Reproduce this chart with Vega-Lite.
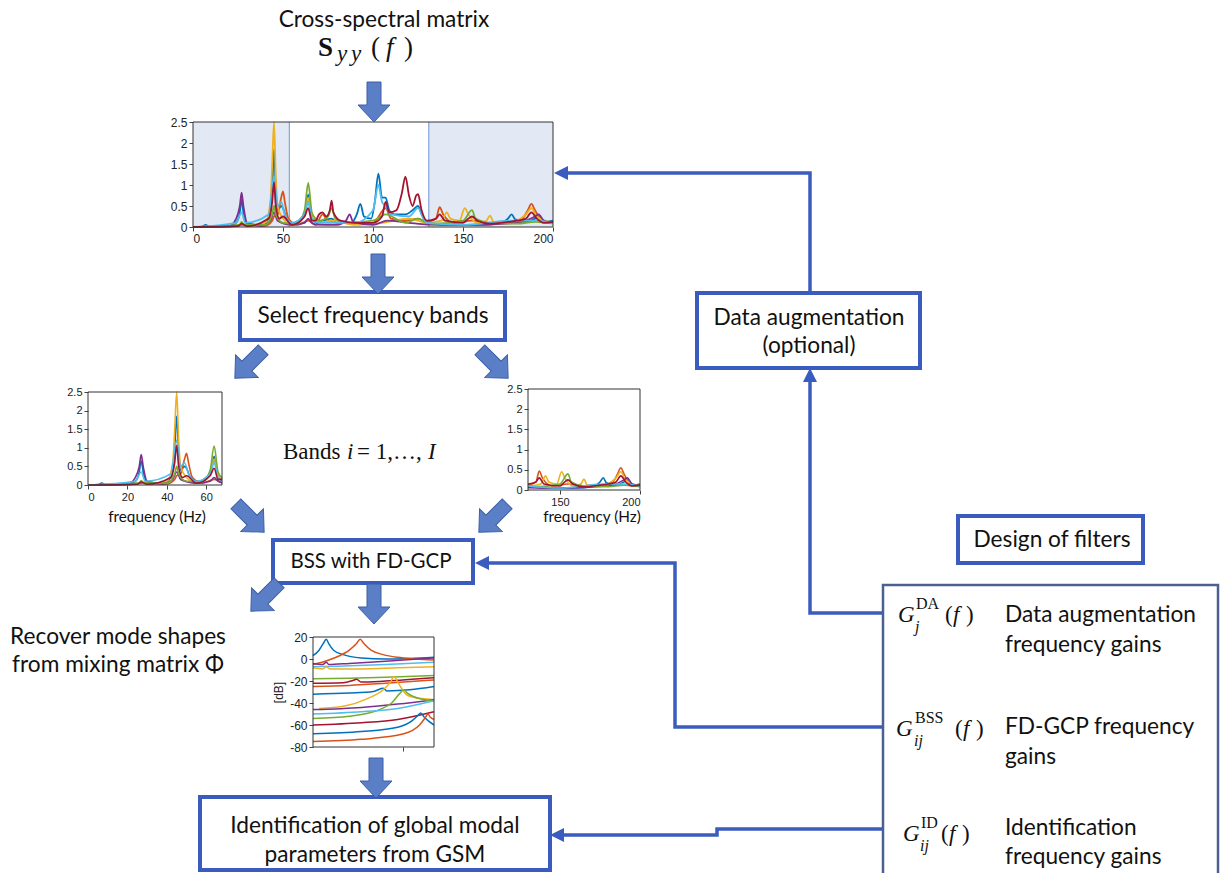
{
"$schema":"https://vega.github.io/schema/vega-lite/v6.json",
"width":1221,"height":873,"autosize":{"type":"none"},"padding":0,"background":"white",
"config":{"view":{"stroke":null},"axis":{"grid":false,"domain":false,"title":null,"labelFont":"Liberation Sans","labelColor":"#222","tickColor":"#444","tickSize":4,"labelExpr":"''+datum.value"}},
"datasets":{
"spec":[
{"s":"A","f":0,"v":0},{"s":"A","f":5,"v":0.01},{"s":"A","f":7,"v":0.05},{"s":"A","f":9,"v":0.01},{"s":"A","f":20,"v":0.02},{"s":"A","f":24,"v":0.1},{"s":"A","f":26,"v":0.35},{"s":"A","f":27,"v":0.65},{"s":"A","f":28,"v":0.35},{"s":"A","f":30,"v":0.08},{"s":"A","f":38,"v":0.05},{"s":"A","f":42,"v":0.2},{"s":"A","f":44,"v":0.9},{"s":"A","f":45,"v":1.85},{"s":"A","f":46,"v":0.9},{"s":"A","f":47,"v":0.4},{"s":"A","f":49,"v":0.5},{"s":"A","f":50,"v":0.45},{"s":"A","f":52,"v":0.2},{"s":"A","f":56,"v":0.1},{"s":"A","f":60,"v":0.2},{"s":"A","f":63,"v":0.5},{"s":"A","f":64,"v":0.77},{"s":"A","f":65,"v":0.45},{"s":"A","f":67,"v":0.15},{"s":"A","f":68,"v":0.12},{"s":"A","f":72,"v":0.15},{"s":"A","f":77,"v":0.2},{"s":"A","f":80,"v":0.1},{"s":"A","f":88,"v":0.1},{"s":"A","f":91,"v":0.3},{"s":"A","f":93,"v":0.55},{"s":"A","f":95,"v":0.25},{"s":"A","f":99,"v":0.2},{"s":"A","f":101,"v":0.6},{"s":"A","f":103,"v":1.27},{"s":"A","f":105,"v":0.7},{"s":"A","f":107,"v":0.7},{"s":"A","f":109,"v":0.4},{"s":"A","f":112,"v":0.3},{"s":"A","f":118,"v":0.3},{"s":"A","f":122,"v":0.4},{"s":"A","f":125,"v":0.5},{"s":"A","f":127,"v":0.3},{"s":"A","f":130,"v":0.12},{"s":"A","f":140,"v":0.05},{"s":"A","f":160,"v":0.05},{"s":"A","f":170,"v":0.08},{"s":"A","f":175,"v":0.2},{"s":"A","f":177,"v":0.3},{"s":"A","f":179,"v":0.18},{"s":"A","f":185,"v":0.12},{"s":"A","f":190,"v":0.2},{"s":"A","f":192,"v":0.25},{"s":"A","f":195,"v":0.12},{"s":"A","f":200,"v":0.15},
{"s":"B","f":0,"v":0},{"s":"B","f":20,"v":0.01},{"s":"B","f":27,"v":0.05},{"s":"B","f":40,"v":0.03},{"s":"B","f":44,"v":0.15},{"s":"B","f":45,"v":0.25},{"s":"B","f":47,"v":0.3},{"s":"B","f":49,"v":0.7},{"s":"B","f":50,"v":0.85},{"s":"B","f":51,"v":0.6},{"s":"B","f":53,"v":0.2},{"s":"B","f":58,"v":0.05},{"s":"B","f":64,"v":0.15},{"s":"B","f":68,"v":0.05},{"s":"B","f":72,"v":0.3},{"s":"B","f":74,"v":0.2},{"s":"B","f":80,"v":0.1},{"s":"B","f":100,"v":0.1},{"s":"B","f":107,"v":0.45},{"s":"B","f":110,"v":0.2},{"s":"B","f":118,"v":0.15},{"s":"B","f":125,"v":0.2},{"s":"B","f":130,"v":0.12},{"s":"B","f":135,"v":0.2},{"s":"B","f":137,"v":0.47},{"s":"B","f":139,"v":0.3},{"s":"B","f":145,"v":0.1},{"s":"B","f":155,"v":0.15},{"s":"B","f":165,"v":0.08},{"s":"B","f":175,"v":0.1},{"s":"B","f":183,"v":0.2},{"s":"B","f":186,"v":0.4},{"s":"B","f":188,"v":0.55},{"s":"B","f":190,"v":0.4},{"s":"B","f":194,"v":0.15},{"s":"B","f":200,"v":0.1},
{"s":"C","f":0,"v":0},{"s":"C","f":25,"v":0.02},{"s":"C","f":27,"v":0.1},{"s":"C","f":30,"v":0.03},{"s":"C","f":40,"v":0.1},{"s":"C","f":43,"v":0.6},{"s":"C","f":44,"v":1.5},{"s":"C","f":45,"v":2.5},{"s":"C","f":46,"v":1.2},{"s":"C","f":47,"v":0.5},{"s":"C","f":50,"v":0.2},{"s":"C","f":55,"v":0.05},{"s":"C","f":62,"v":0.3},{"s":"C","f":64,"v":0.7},{"s":"C","f":66,"v":0.25},{"s":"C","f":68,"v":0.15},{"s":"C","f":70,"v":0.1},{"s":"C","f":78,"v":0.15},{"s":"C","f":90,"v":0.05},{"s":"C","f":105,"v":0.1},{"s":"C","f":120,"v":0.2},{"s":"C","f":130,"v":0.1},{"s":"C","f":138,"v":0.15},{"s":"C","f":141,"v":0.35},{"s":"C","f":143,"v":0.2},{"s":"C","f":148,"v":0.15},{"s":"C","f":151,"v":0.45},{"s":"C","f":153,"v":0.3},{"s":"C","f":158,"v":0.1},{"s":"C","f":163,"v":0.15},{"s":"C","f":165,"v":0.27},{"s":"C","f":167,"v":0.12},{"s":"C","f":175,"v":0.1},{"s":"C","f":185,"v":0.3},{"s":"C","f":188,"v":0.45},{"s":"C","f":191,"v":0.25},{"s":"C","f":200,"v":0.1},
{"s":"D","f":0,"v":0},{"s":"D","f":20,"v":0.02},{"s":"D","f":24,"v":0.2},{"s":"D","f":26,"v":0.5},{"s":"D","f":27,"v":0.82},{"s":"D","f":28,"v":0.5},{"s":"D","f":30,"v":0.1},{"s":"D","f":38,"v":0.03},{"s":"D","f":43,"v":0.15},{"s":"D","f":45,"v":0.35},{"s":"D","f":47,"v":0.15},{"s":"D","f":55,"v":0.05},{"s":"D","f":62,"v":0.1},{"s":"D","f":64,"v":0.2},{"s":"D","f":66,"v":0.1},{"s":"D","f":68,"v":0.06},{"s":"D","f":80,"v":0.05},{"s":"D","f":85,"v":0.15},{"s":"D","f":87,"v":0.3},{"s":"D","f":89,"v":0.12},{"s":"D","f":100,"v":0.05},{"s":"D","f":108,"v":0.15},{"s":"D","f":120,"v":0.1},{"s":"D","f":130,"v":0.06},{"s":"D","f":150,"v":0.05},{"s":"D","f":180,"v":0.1},{"s":"D","f":190,"v":0.25},{"s":"D","f":192,"v":0.3},{"s":"D","f":195,"v":0.15},{"s":"D","f":200,"v":0.1},
{"s":"E","f":0,"v":0},{"s":"E","f":26,"v":0.05},{"s":"E","f":27,"v":0.12},{"s":"E","f":28,"v":0.05},{"s":"E","f":40,"v":0.05},{"s":"E","f":44,"v":0.3},{"s":"E","f":45,"v":0.5},{"s":"E","f":46,"v":0.3},{"s":"E","f":50,"v":0.1},{"s":"E","f":58,"v":0.08},{"s":"E","f":62,"v":0.4},{"s":"E","f":64,"v":1.05},{"s":"E","f":66,"v":0.35},{"s":"E","f":68,"v":0.2},{"s":"E","f":70,"v":0.15},{"s":"E","f":75,"v":0.25},{"s":"E","f":77,"v":0.45},{"s":"E","f":79,"v":0.2},{"s":"E","f":85,"v":0.1},{"s":"E","f":100,"v":0.15},{"s":"E","f":107,"v":0.3},{"s":"E","f":118,"v":0.1},{"s":"E","f":125,"v":0.2},{"s":"E","f":130,"v":0.1},{"s":"E","f":135,"v":0.08},{"s":"E","f":150,"v":0.15},{"s":"E","f":155,"v":0.4},{"s":"E","f":157,"v":0.2},{"s":"E","f":165,"v":0.1},{"s":"E","f":180,"v":0.08},{"s":"E","f":190,"v":0.12},{"s":"E","f":200,"v":0.08},
{"s":"F","f":0,"v":0},{"s":"F","f":24,"v":0.1},{"s":"F","f":27,"v":0.35},{"s":"F","f":29,"v":0.1},{"s":"F","f":42,"v":0.3},{"s":"F","f":45,"v":1.2},{"s":"F","f":47,"v":0.5},{"s":"F","f":49,"v":0.6},{"s":"F","f":51,"v":0.3},{"s":"F","f":55,"v":0.1},{"s":"F","f":62,"v":0.3},{"s":"F","f":64,"v":0.6},{"s":"F","f":66,"v":0.2},{"s":"F","f":68,"v":0.12},{"s":"F","f":75,"v":0.1},{"s":"F","f":90,"v":0.1},{"s":"F","f":100,"v":0.4},{"s":"F","f":103,"v":1.0},{"s":"F","f":105,"v":0.6},{"s":"F","f":107,"v":0.5},{"s":"F","f":110,"v":0.3},{"s":"F","f":120,"v":0.25},{"s":"F","f":125,"v":0.45},{"s":"F","f":128,"v":0.2},{"s":"F","f":130,"v":0.1},{"s":"F","f":150,"v":0.05},{"s":"F","f":177,"v":0.15},{"s":"F","f":190,"v":0.15},{"s":"F","f":200,"v":0.1},
{"s":"G","f":0,"v":0},{"s":"G","f":25,"v":0.02},{"s":"G","f":27,"v":0.08},{"s":"G","f":30,"v":0.02},{"s":"G","f":42,"v":0.2},{"s":"G","f":44,"v":0.6},{"s":"G","f":45,"v":1.07},{"s":"G","f":46,"v":0.5},{"s":"G","f":48,"v":0.2},{"s":"G","f":50,"v":0.25},{"s":"G","f":55,"v":0.05},{"s":"G","f":62,"v":0.25},{"s":"G","f":64,"v":0.45},{"s":"G","f":66,"v":0.15},{"s":"G","f":68,"v":0.15},{"s":"G","f":70,"v":0.3},{"s":"G","f":72,"v":0.35},{"s":"G","f":74,"v":0.25},{"s":"G","f":76,"v":0.4},{"s":"G","f":77,"v":0.63},{"s":"G","f":78,"v":0.35},{"s":"G","f":82,"v":0.15},{"s":"G","f":90,"v":0.1},{"s":"G","f":100,"v":0.1},{"s":"G","f":105,"v":0.25},{"s":"G","f":107,"v":0.6},{"s":"G","f":109,"v":0.35},{"s":"G","f":113,"v":0.4},{"s":"G","f":116,"v":0.8},{"s":"G","f":118,"v":1.2},{"s":"G","f":120,"v":0.75},{"s":"G","f":122,"v":0.5},{"s":"G","f":124,"v":0.75},{"s":"G","f":125,"v":0.78},{"s":"G","f":127,"v":0.4},{"s":"G","f":130,"v":0.15},{"s":"G","f":135,"v":0.2},{"s":"G","f":137,"v":0.3},{"s":"G","f":140,"v":0.15},{"s":"G","f":150,"v":0.1},{"s":"G","f":153,"v":0.2},{"s":"G","f":155,"v":0.25},{"s":"G","f":158,"v":0.15},{"s":"G","f":165,"v":0.08},{"s":"G","f":175,"v":0.12},{"s":"G","f":180,"v":0.15},{"s":"G","f":185,"v":0.2},{"s":"G","f":188,"v":0.35},{"s":"G","f":191,"v":0.2},{"s":"G","f":195,"v":0.1},{"s":"G","f":200,"v":0.12}
],
"db":[
{"s":"b01","x":0,"v":3},{"s":"b01","x":5,"v":8},{"s":"b01","x":9,"v":15},{"s":"b01","x":11,"v":18},{"s":"b01","x":13,"v":14},{"s":"b01","x":17,"v":8},{"s":"b01","x":25,"v":4},{"s":"b01","x":40,"v":1},{"s":"b01","x":60,"v":0},{"s":"b01","x":80,"v":0.5},{"s":"b01","x":100,"v":1.5},
{"s":"b02","x":0,"v":-5},{"s":"b02","x":10,"v":-2},{"s":"b02","x":20,"v":2},{"s":"b02","x":30,"v":8},{"s":"b02","x":36,"v":14},{"s":"b02","x":39,"v":18},{"s":"b02","x":42,"v":14},{"s":"b02","x":48,"v":8},{"s":"b02","x":58,"v":4},{"s":"b02","x":70,"v":1.5},{"s":"b02","x":85,"v":0},{"s":"b02","x":100,"v":-1},
{"s":"b03","x":0,"v":-4},{"s":"b03","x":8,"v":-5},{"s":"b03","x":11,"v":-3},{"s":"b03","x":13,"v":-5},{"s":"b03","x":30,"v":-4},{"s":"b03","x":60,"v":-2},{"s":"b03","x":100,"v":1},
{"s":"b04","x":0,"v":-7},{"s":"b04","x":20,"v":-6.5},{"s":"b04","x":60,"v":-5},{"s":"b04","x":100,"v":-3},
{"s":"b05","x":0,"v":-8},{"s":"b05","x":8,"v":-9},{"s":"b05","x":11,"v":-7},{"s":"b05","x":14,"v":-9},{"s":"b05","x":40,"v":-9},{"s":"b05","x":70,"v":-8},{"s":"b05","x":100,"v":-7},
{"s":"b06","x":0,"v":-18},{"s":"b06","x":30,"v":-17.5},{"s":"b06","x":60,"v":-16.5},{"s":"b06","x":100,"v":-15},
{"s":"b07","x":0,"v":-22},{"s":"b07","x":25,"v":-21.5},{"s":"b07","x":33,"v":-19.5},{"s":"b07","x":36,"v":-18.5},{"s":"b07","x":40,"v":-21},{"s":"b07","x":60,"v":-20},{"s":"b07","x":100,"v":-17},
{"s":"b08","x":0,"v":-25},{"s":"b08","x":30,"v":-24},{"s":"b08","x":60,"v":-22},{"s":"b08","x":100,"v":-19},
{"s":"b09","x":0,"v":-32},{"s":"b09","x":30,"v":-31},{"s":"b09","x":50,"v":-29.5},{"s":"b09","x":56,"v":-27},{"s":"b09","x":58,"v":-26.5},{"s":"b09","x":61,"v":-29},{"s":"b09","x":80,"v":-28},{"s":"b09","x":100,"v":-25},
{"s":"b10","x":5,"v":-45},{"s":"b10","x":25,"v":-43},{"s":"b10","x":45,"v":-36},{"s":"b10","x":58,"v":-28},{"s":"b10","x":64,"v":-21},{"s":"b10","x":67,"v":-16},{"s":"b10","x":70,"v":-21},{"s":"b10","x":78,"v":-33},{"s":"b10","x":90,"v":-36},{"s":"b10","x":100,"v":-37},
{"s":"b11","x":0,"v":-46},{"s":"b11","x":40,"v":-44},{"s":"b11","x":70,"v":-41},{"s":"b11","x":100,"v":-37},
{"s":"b12","x":0,"v":-54},{"s":"b12","x":30,"v":-52},{"s":"b12","x":55,"v":-46},{"s":"b12","x":65,"v":-40},{"s":"b12","x":72,"v":-31},{"s":"b12","x":75,"v":-28},{"s":"b12","x":78,"v":-31},{"s":"b12","x":85,"v":-35},{"s":"b12","x":100,"v":-38},
{"s":"b13","x":0,"v":-50},{"s":"b13","x":40,"v":-48},{"s":"b13","x":70,"v":-45},{"s":"b13","x":100,"v":-38},
{"s":"b14","x":0,"v":-60},{"s":"b14","x":40,"v":-58},{"s":"b14","x":70,"v":-55},{"s":"b14","x":100,"v":-48},
{"s":"b15","x":0,"v":-68},{"s":"b15","x":40,"v":-66},{"s":"b15","x":70,"v":-62},{"s":"b15","x":82,"v":-56},{"s":"b15","x":87,"v":-51},{"s":"b15","x":89,"v":-49},{"s":"b15","x":92,"v":-53},{"s":"b15","x":100,"v":-60},
{"s":"b16","x":0,"v":-75},{"s":"b16","x":40,"v":-73},{"s":"b16","x":75,"v":-68},{"s":"b16","x":88,"v":-60},{"s":"b16","x":93,"v":-53},{"s":"b16","x":95,"v":-50},{"s":"b16","x":97,"v":-53},{"s":"b16","x":100,"v":-55}
]
},
"resolve":{"scale":{"x":"independent","y":"independent","color":"independent","angle":"independent"}},
"layer":[
  {"data":{"values":[{"a":0,"b":53.5},{"a":131,"b":200}]},"mark":{"type":"rect","fill":"#e2e9f4"},
   "encoding":{"x":{"field":"a","type":"quantitative","scale":{"domain":[0,200],"range":[193,553]},"axis":null},"x2":{"field":"b"},"y":{"datum":0,"type":"quantitative","scale":{"domain":[0,2.5],"range":[227,122]},"axis":null},"y2":{"datum":2.5}}},
  {"data":{"values":[{"a":53.5},{"a":131}]},"mark":{"type":"rule","color":"#7095d8","strokeWidth":1},
   "encoding":{"x":{"field":"a","type":"quantitative","scale":{"domain":[0,200],"range":[193,553]},"axis":null},"y":{"datum":0,"type":"quantitative","scale":{"domain":[0,2.5],"range":[227,122]},"axis":null},"y2":{"datum":2.5}}},
  {"data":{"name":"spec"},"mark":{"type":"line","interpolate":"monotone","strokeWidth":1.8},
   "encoding":{"x":{"field":"f","type":"quantitative","scale":{"domain":[0,200],"range":[193,553]},"axis":{"orient":"bottom","offset":-646,"values":[0,50,100,150,200],"labelFontSize":12}},
    "y":{"field":"v","type":"quantitative","scale":{"domain":[0,2.5],"range":[227,122]},"axis":{"orient":"left","offset":-193,"values":[0,0.5,1,1.5,2,2.5],"labelFontSize":12}},
    "color":{"field":"s","type":"nominal","scale":{"domain":["A","B","C","D","E","F","G"],"range":["#0072BD","#D95319","#EDB120","#7E2F8E","#77AC30","#4DBEEE","#A2142F"]},"legend":null}}},
  {"data":{"values":[{"a":0,"b":200}]},"mark":{"type":"rect","fill":null,"stroke":"#333","strokeWidth":1},
   "encoding":{"x":{"field":"a","type":"quantitative","scale":{"domain":[0,200],"range":[193,553]},"axis":null},"x2":{"field":"b"},"y":{"datum":0,"type":"quantitative","scale":{"domain":[0,2.5],"range":[227,122]},"axis":null},"y2":{"datum":2.5}}},
  {"data":{"name":"spec"},"transform":[{"filter":"datum.f <= 68"}],"mark":{"type":"line","interpolate":"monotone","strokeWidth":1.6},
   "encoding":{"x":{"field":"f","type":"quantitative","scale":{"domain":[0,68],"range":[88,222]},"axis":{"orient":"bottom","offset":-388,"values":[0,20,40,60],"labelFontSize":11}},
    "y":{"field":"v","type":"quantitative","scale":{"domain":[0,2.5],"range":[485,392]},"axis":{"orient":"left","offset":-88,"values":[0,0.5,1,1.5,2,2.5],"labelFontSize":11}},
    "color":{"field":"s","type":"nominal","scale":{"domain":["A","B","C","D","E","F","G"],"range":["#0072BD","#D95319","#EDB120","#7E2F8E","#77AC30","#4DBEEE","#A2142F"]},"legend":null}}},
  {"data":{"values":[{"a":0,"b":68}]},"mark":{"type":"rect","fill":null,"stroke":"#333","strokeWidth":1},
   "encoding":{"x":{"field":"a","type":"quantitative","scale":{"domain":[0,68],"range":[88,222]},"axis":null},"x2":{"field":"b"},"y":{"datum":0,"type":"quantitative","scale":{"domain":[0,2.5],"range":[485,392]},"axis":null},"y2":{"datum":2.5}}},
  {"data":{"name":"spec"},"transform":[{"filter":"datum.f >= 130"}],"mark":{"type":"line","interpolate":"monotone","strokeWidth":1.6},
   "encoding":{"x":{"field":"f","type":"quantitative","scale":{"domain":[130,200],"range":[528,640]},"axis":{"orient":"bottom","offset":-383,"values":[150,200],"labelFontSize":11}},
    "y":{"field":"v","type":"quantitative","scale":{"domain":[0,2.5],"range":[490,389]},"axis":{"orient":"left","offset":-528,"values":[0,0.5,1,1.5,2,2.5],"labelFontSize":11}},
    "color":{"field":"s","type":"nominal","scale":{"domain":["A","B","C","D","E","F","G"],"range":["#0072BD","#D95319","#EDB120","#7E2F8E","#77AC30","#4DBEEE","#A2142F"]},"legend":null}}},
  {"data":{"values":[{"a":130,"b":200}]},"mark":{"type":"rect","fill":null,"stroke":"#333","strokeWidth":1},
   "encoding":{"x":{"field":"a","type":"quantitative","scale":{"domain":[130,200],"range":[528,640]},"axis":null},"x2":{"field":"b"},"y":{"datum":0,"type":"quantitative","scale":{"domain":[0,2.5],"range":[490,389]},"axis":null},"y2":{"datum":2.5}}},
  {"data":{"name":"db"},"mark":{"type":"line","interpolate":"monotone","strokeWidth":1.5},
   "encoding":{"x":{"field":"x","type":"quantitative","scale":{"domain":[0,100],"range":[313,434]},"axis":{"orient":"bottom","offset":-126,"values":[74],"labels":false}},
    "y":{"field":"v","type":"quantitative","scale":{"domain":[-80,20],"range":[747,637]},"axis":{"orient":"left","offset":-313,"values":[-80,-60,-40,-20,0,20],"labelFontSize":12,"title":"[dB]","titleFont":"Liberation Sans","titleFontSize":12,"titleFontWeight":"normal","titleColor":"#222","titlePadding":4}},
    "color":{"field":"s","type":"nominal","scale":{"domain":["b01","b02","b03","b04","b05","b06","b07","b08","b09","b10","b11","b12","b13","b14","b15","b16"],"range":["#0072BD","#D95319","#7E2F8E","#4DBEEE","#EDB120","#77AC30","#A2142F","#D95319","#0072BD","#EDB120","#7E2F8E","#77AC30","#4DBEEE","#A2142F","#0072BD","#D95319"]},"legend":null}}},
  {"data":{"values":[{"a":0,"b":100}]},"mark":{"type":"rect","fill":null,"stroke":"#333","strokeWidth":1},
   "encoding":{"x":{"field":"a","type":"quantitative","scale":{"domain":[0,100],"range":[313,434]},"axis":null},"x2":{"field":"b"},"y":{"datum":-80,"type":"quantitative","scale":{"domain":[-80,20],"range":[747,637]},"axis":null},"y2":{"datum":20}}},
{
 "encoding":{
  "x":{"field":"x","type":"quantitative","scale":{"domain":[0,1221],"nice":false,"zero":false},"axis":null},
  "y":{"field":"y","type":"quantitative","scale":{"domain":[0,873],"reverse":true,"nice":false,"zero":false},"axis":null}
 },
 "layer":[
  {"data":{"values":[{"p":1,"o":1,"x":883,"y":613},{"p":1,"o":2,"x":810,"y":613},{"p":1,"o":3,"x":810,"y":376},{"p":2,"o":1,"x":810,"y":293},{"p":2,"o":2,"x":810,"y":173},{"p":2,"o":3,"x":566,"y":173},{"p":3,"o":1,"x":883,"y":727},{"p":3,"o":2,"x":675,"y":727},{"p":3,"o":3,"x":675,"y":563},{"p":3,"o":4,"x":487,"y":563},{"p":4,"o":1,"x":883,"y":829},{"p":4,"o":2,"x":717,"y":829},{"p":4,"o":3,"x":717,"y":835},{"p":4,"o":4,"x":562,"y":835}]},
   "mark":{"type":"line","color":"#3b5cbf","strokeWidth":3.5,"strokeCap":"butt","strokeJoin":"miter"},
   "encoding":{"detail":{"field":"p","type":"nominal"},"order":{"field":"o","type":"quantitative"}}},
  {"data":{"values":[{"x":810,"y":375,"a":0},{"x":561,"y":173,"a":270},{"x":482,"y":563,"a":270},{"x":557,"y":835,"a":270}]},
   "mark":{"type":"point","shape":"M0,-1L1,1L-1,1Z","filled":true,"fill":"#3b5cbf","strokeWidth":0,"size":196,"opacity":1},
   "encoding":{"angle":{"field":"a","type":"quantitative","scale":{"domain":[0,360],"range":[0,360]}}}},
  {"data":{"values":[{"x":240,"x2":505,"y":292,"y2":340},{"x":697,"x2":920,"y":293,"y2":368},{"x":273,"x2":473,"y":540,"y2":583},{"x":200,"x2":550,"y":797,"y2":870},{"x":958,"x2":1143,"y":516,"y2":563}]},
   "mark":{"type":"rect","fill":"white","stroke":"#3b5cbf","strokeWidth":4},
   "encoding":{"x2":{"field":"x2"},"y2":{"field":"y2"}}},
  {"data":{"values":[{"x":883,"x2":1218,"y":585,"y2":880}]},
   "mark":{"type":"rect","fill":null,"stroke":"#4a6091","strokeWidth":2.5},
   "encoding":{"x2":{"field":"x2"},"y2":{"field":"y2"}}},
  {"data":{"values":[{"x":374,"y":102,"a":0},{"x":378,"y":274,"a":0},{"x":249,"y":364,"a":45},{"x":494,"y":364,"a":315},{"x":250,"y":518,"a":315},{"x":493,"y":518,"a":45},{"x":265,"y":597,"a":45},{"x":374,"y":604,"a":0},{"x":376,"y":778,"a":0}]},
   "mark":{"type":"point","shape":"M-0.35,-1L0.35,-1L0.35,0.15L0.8,0.15L0,1L-0.8,0.15L-0.35,0.15Z","filled":true,"fill":"#5b7fc6","stroke":"#3e5fa6","strokeWidth":1,"size":1600,"opacity":1},
   "encoding":{"angle":{"field":"a","type":"quantitative","scale":{"domain":[0,360],"range":[0,360]}}}},
  {"data":{"values":[{"t":"Cross-spectral matrix","x":384,"y":20},{"t":"Select frequency bands","x":373,"y":316},{"t":"Data augmentation","x":809,"y":318},{"t":"(optional)","x":809,"y":346},{"t":"Identification of global modal","x":375,"y":826},{"t":"parameters from GSM","x":375,"y":855},{"t":"Design of filters","x":1052,"y":540},{"t":"Recover mode shapes","x":118,"y":637},{"t":"from mixing matrix Φ","x":118,"y":665}]},
   "mark":{"type":"text","font":"Lato","fontSize":22.7,"color":"#111","align":"center","baseline":"middle"},
   "encoding":{"text":{"field":"t"}}},
  {"data":{"values":[{"t":"BSS with FD-GCP","x":371,"y":562}]},
   "mark":{"type":"text","font":"Lato","fontSize":20.5,"color":"#111","align":"center","baseline":"middle"},
   "encoding":{"text":{"field":"t"}}},
  {"data":{"values":[{"t":"frequency (Hz)","x":157,"y":517},{"t":"frequency (Hz)","x":592,"y":517}]},
   "mark":{"type":"text","font":"Lato","fontSize":15.3,"color":"#111","align":"center","baseline":"middle"},
   "encoding":{"text":{"field":"t"}}},
  {"data":{"values":[{"t":"Data augmentation","x":1005,"y":615},{"t":"frequency gains","x":1005,"y":645},{"t":"FD-GCP frequency","x":1005,"y":727},{"t":"gains","x":1005,"y":757},{"t":"Identification","x":1005,"y":828},{"t":"frequency gains","x":1005,"y":857}]},
   "mark":{"type":"text","font":"Lato","fontSize":22.7,"color":"#111","align":"left","baseline":"middle"},
   "encoding":{"text":{"field":"t"}}},
  {"data":{"values":[{"t":"G","x":898,"y":622},{"t":"f","x":953,"y":622},{"t":"G","x":896,"y":736},{"t":"f","x":963,"y":736},{"t":"G","x":903,"y":841},{"t":"f","x":949,"y":841},{"t":"i","x":347,"y":459},{"t":"I","x":428,"y":459}]},
   "mark":{"type":"text","font":"Liberation Serif","fontStyle":"italic","fontSize":23,"color":"#111","align":"left","baseline":"alphabetic"},
   "encoding":{"text":{"field":"t"}}},
  {"data":{"values":[{"t":"(","x":945,"y":622},{"t":")","x":966,"y":622},{"t":"(","x":955,"y":736},{"t":")","x":976,"y":736},{"t":"(","x":941,"y":841},{"t":")","x":962,"y":841},{"t":"Bands","x":283,"y":459},{"t":"= 1,…,","x":357,"y":459}]},
   "mark":{"type":"text","font":"Liberation Serif","fontSize":23,"color":"#111","align":"left","baseline":"alphabetic"},
   "encoding":{"text":{"field":"t"}}},
  {"data":{"values":[{"t":"DA","x":916,"y":609},{"t":"BSS","x":915,"y":723},{"t":"ID","x":921,"y":828}]},
   "mark":{"type":"text","font":"Liberation Serif","fontSize":16,"color":"#111","align":"left","baseline":"alphabetic"},
   "encoding":{"text":{"field":"t"}}},
  {"data":{"values":[{"t":"j","x":915,"y":632},{"t":"ij","x":914,"y":746},{"t":"ij","x":920,"y":851}]},
   "mark":{"type":"text","font":"Liberation Serif","fontStyle":"italic","fontSize":16,"color":"#111","align":"left","baseline":"alphabetic"},
   "encoding":{"text":{"field":"t"}}},
  {"data":{"values":[{"t":"S","x":318,"y":56}]},
   "mark":{"type":"text","font":"Liberation Serif","fontWeight":"bold","fontSize":27,"color":"#111","align":"left","baseline":"alphabetic"},
   "encoding":{"text":{"field":"t"}}},
  {"data":{"values":[{"t":"y","x":337,"y":61},{"t":"y","x":351,"y":61}]},
   "mark":{"type":"text","font":"Liberation Serif","fontStyle":"italic","fontSize":23,"color":"#111","align":"left","baseline":"alphabetic"},
   "encoding":{"text":{"field":"t"}}},
  {"data":{"values":[{"t":"f","x":386,"y":56}]},
   "mark":{"type":"text","font":"Liberation Serif","fontStyle":"italic","fontSize":27,"color":"#111","align":"left","baseline":"alphabetic"},
   "encoding":{"text":{"field":"t"}}},
  {"data":{"values":[{"t":"(","x":371,"y":56},{"t":")","x":404,"y":56}]},
   "mark":{"type":"text","font":"Liberation Serif","fontSize":27,"color":"#111","align":"left","baseline":"alphabetic"},
   "encoding":{"text":{"field":"t"}}}
 ]
}
]
}
